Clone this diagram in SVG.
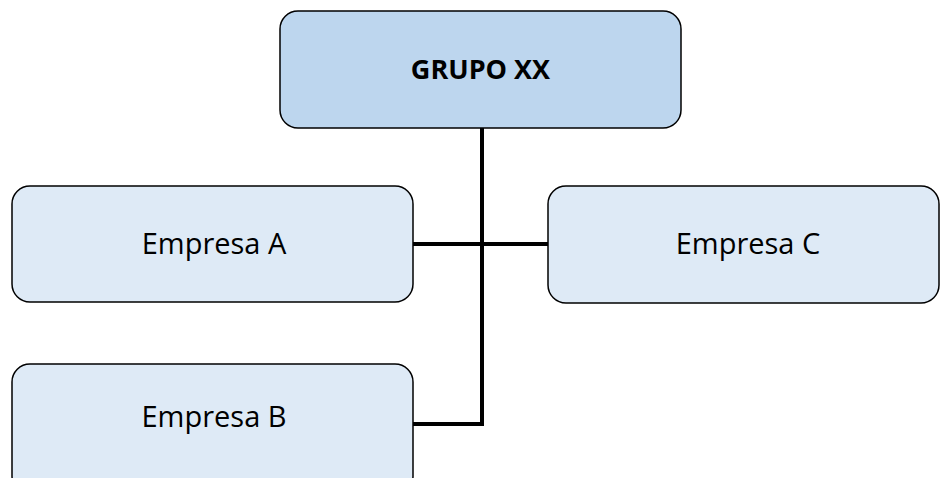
<svg xmlns="http://www.w3.org/2000/svg" width="940" height="478" viewBox="0 0 940 478">
<style>
.box{stroke:#000;stroke-width:1.5}
.top{fill:#BDD6EE}
.sub{fill:#DEEAF6}
.t{font-family:"Open Sans","Liberation Sans",sans-serif;fill:#000;text-anchor:middle}
.b{font-weight:bold;font-size:27px}
.r{font-size:29px}
.c{fill:none;stroke:#000;stroke-width:4}
</style>
<rect width="940" height="478" fill="#fff"/>
<g id="connectors">
<path class="c" d="M482 128V424H413M413 244H548"/>
</g>
<g id="grupo">
<rect class="box top" x="280" y="11" width="401" height="117" rx="18"/>
<text class="t b" x="480.5" y="79">GRUPO XX</text>
</g>
<g id="empresaA">
<rect class="box sub" x="12" y="186" width="401" height="116" rx="18"/>
<text class="t r" x="214" y="254">Empresa A</text>
</g>
<g id="empresaC">
<rect class="box sub" x="548" y="186" width="391" height="117" rx="18"/>
<text class="t r" x="748" y="254">Empresa C</text>
</g>
<g id="empresaB">
<rect class="box sub" x="12" y="364" width="401" height="130" rx="18"/>
<text class="t r" x="214" y="427">Empresa B</text>
</g>
</svg>
